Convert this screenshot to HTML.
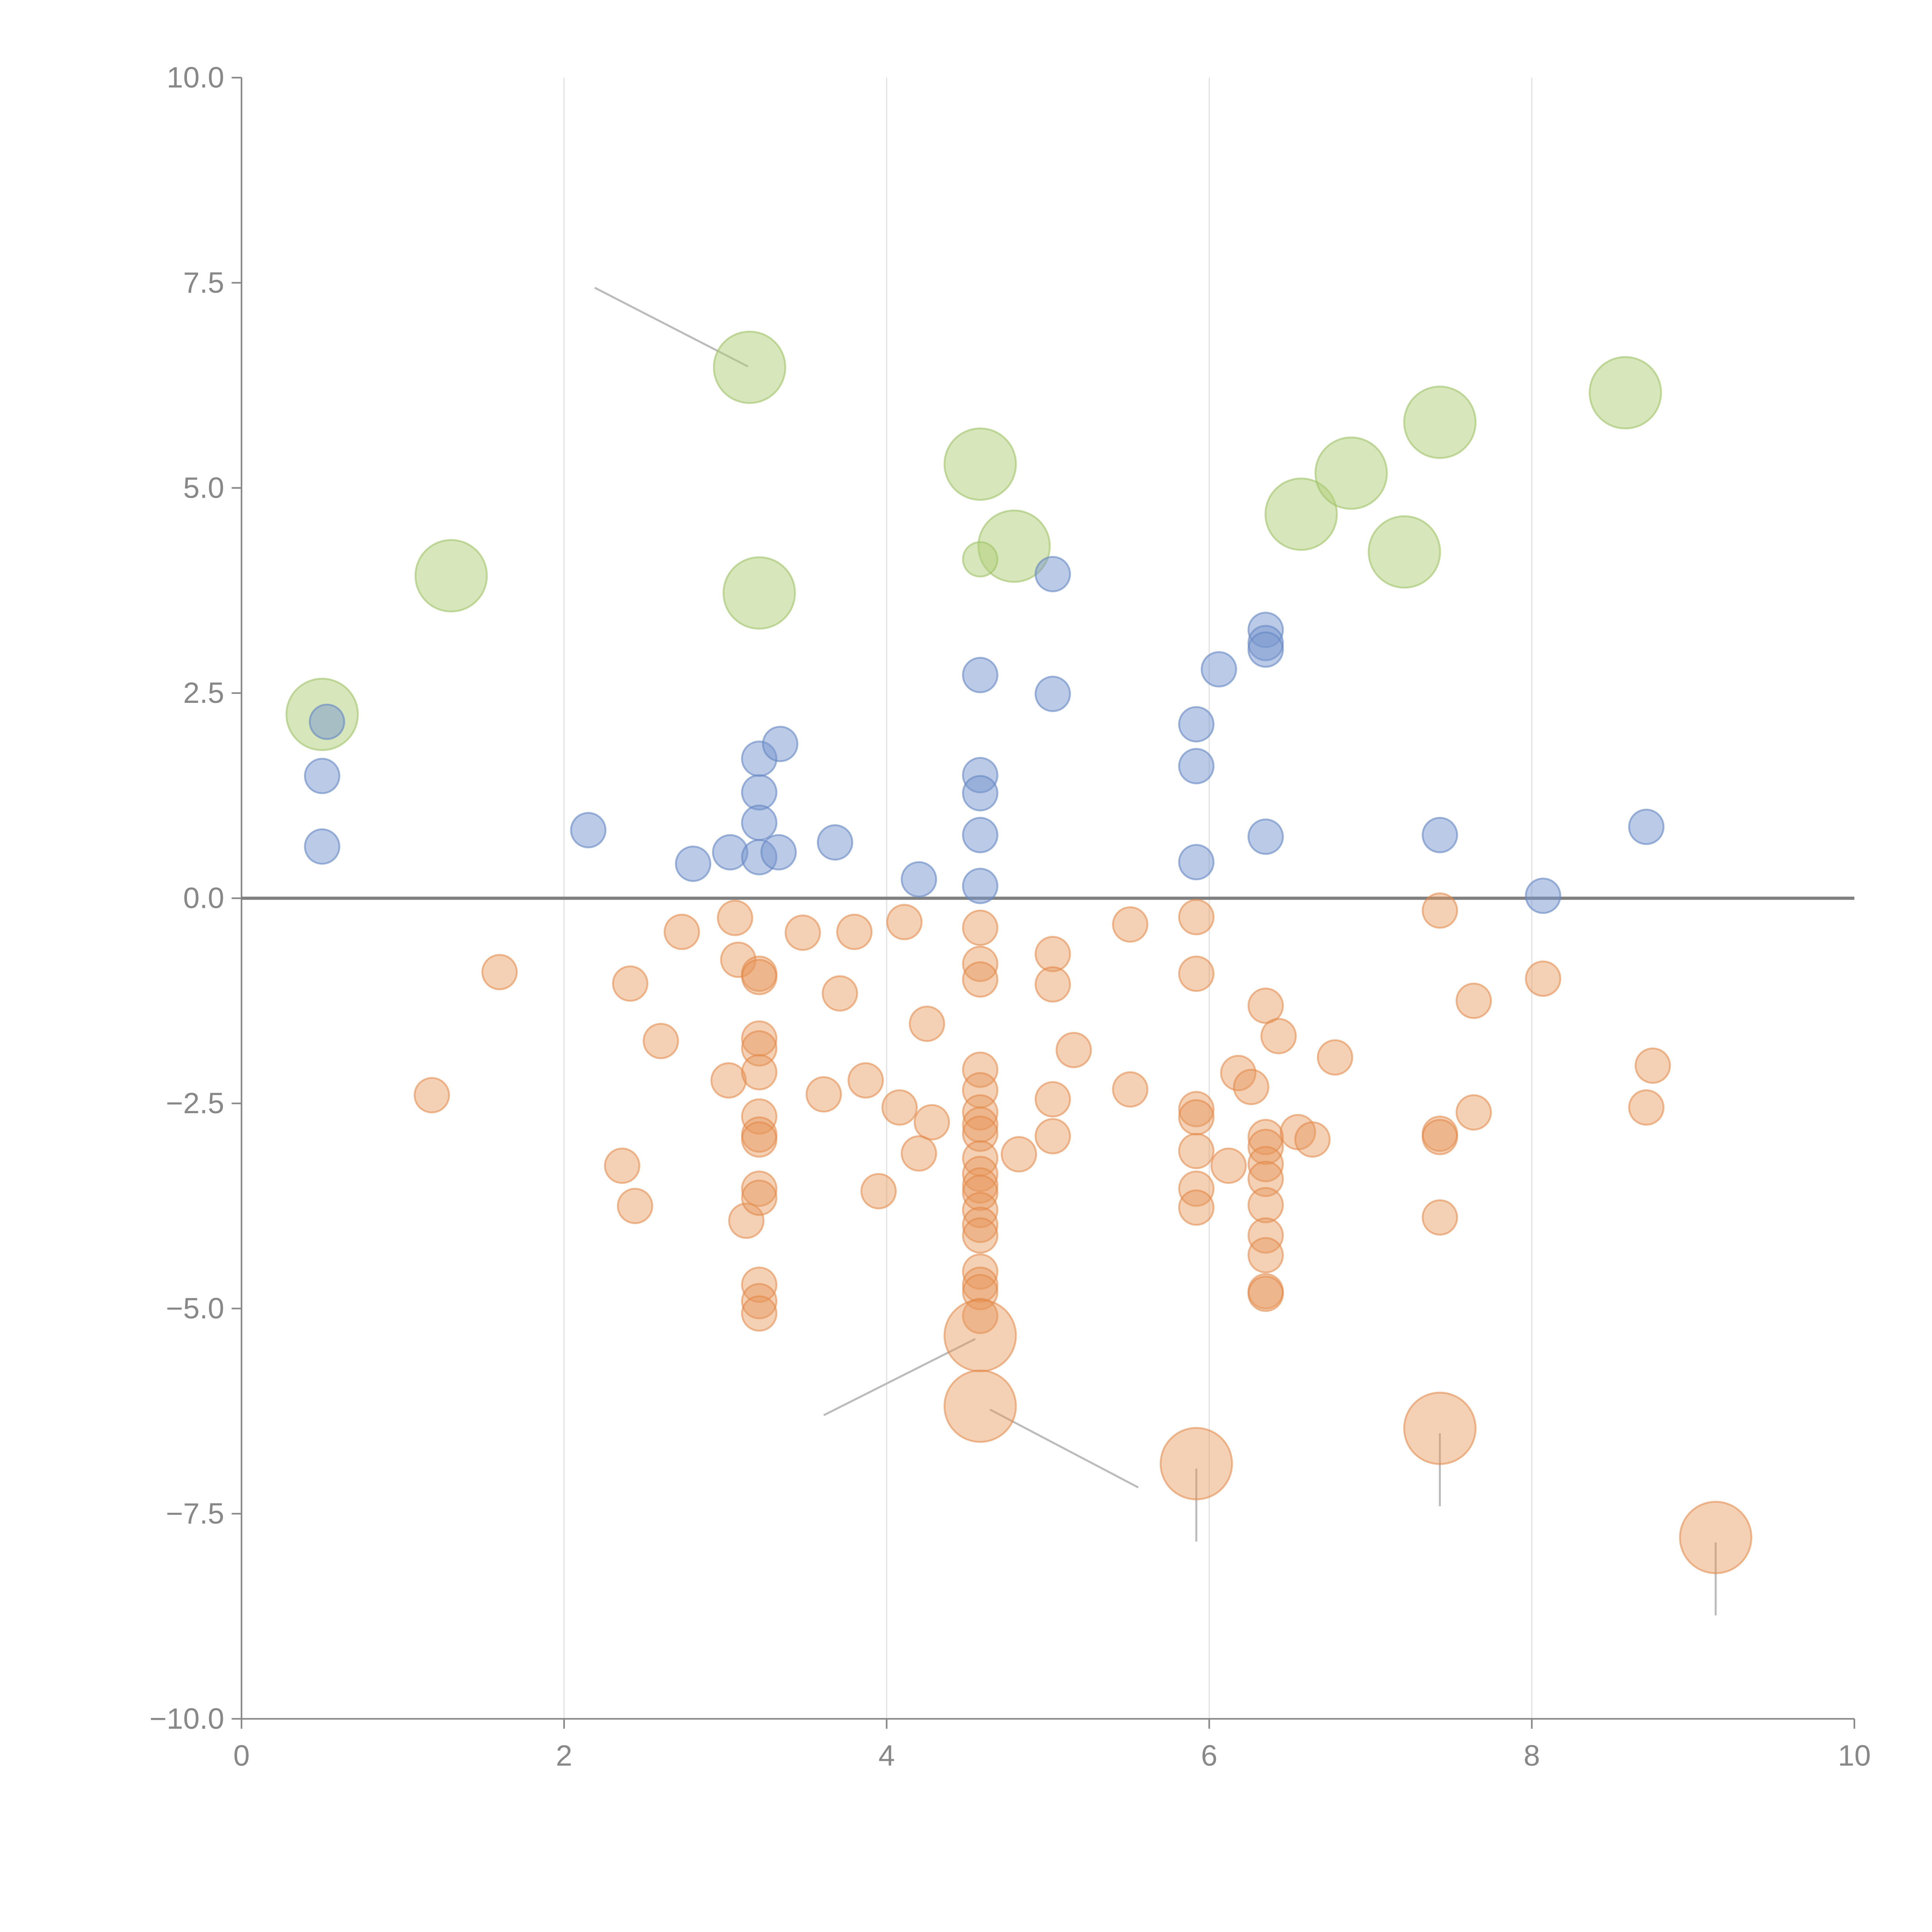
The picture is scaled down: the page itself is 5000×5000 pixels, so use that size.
<!DOCTYPE html>
<html><head><meta charset="utf-8"><title>Bubble scatter</title>
<style>
html,body{margin:0;padding:0;background:#fff;}
svg{display:block;}
text{font-family:"Liberation Sans",Arial,sans-serif;fill:#888;}
</style></head>
<body>
<svg id="chart" width="5000" height="5000" viewBox="0 0 1568 1568" xmlns="http://www.w3.org/2000/svg">
<g id="grid"></g>
<g id="axes"></g>
<g id="ann"></g>
<g id="marks"></g>
</svg>
<script>
const xTicks = [0, 2, 4, 6, 8, 10];
const yTicks = [10, 7.5, 5, 2.5, 0, -2.5, -5, -7.5, -10];
const yTickLabels = ["10.0", "7.5", "5.0", "2.5", "0.0", "\u22122.5", "\u22125.0", "\u22127.5", "\u221210.0"];

const greenBigX = [3.15, 1.30, 0.50, 3.21, 4.58, 4.79, 6.57, 6.88, 7.21, 7.43, 8.58];
const greenBigY = [6.47, 3.93, 2.24, 3.72, 5.29, 4.29, 4.68, 5.18, 4.22, 5.80, 6.16];
const greenSmallX = [4.58];
const greenSmallY = [4.13];

const blueX = [0.53,0.50,0.50,2.15,2.80,3.03,3.21,3.34,3.21,3.21,3.21,3.33,3.68,4.20,4.58,4.58,4.58,4.58,4.58,5.03,5.03,5.92,5.92,5.92,6.06,6.35,6.35,6.35,6.35,7.43,8.07,8.71];
const blueY = [2.15,1.49,0.63,0.83,0.42,0.56,1.70,1.88,1.29,0.92,0.50,0.56,0.68,0.23,2.72,1.50,1.28,0.77,0.15,3.95,2.49,2.12,1.61,0.44,2.79,3.27,3.11,3.03,0.75,0.77,0.03,0.87];

const orangeX = [1.18,1.60,2.41,2.36,2.44,2.60,2.73,3.02,3.06,3.08,3.13,3.21,3.21,3.21,3.21,3.21,3.21,3.21,3.21,3.21,3.21,3.21,3.21,3.21,3.48,3.61,3.71,3.80,3.87,3.95,4.08,4.11,4.20,4.25,4.28,4.58,4.58,4.58,4.58,4.58,4.58,4.58,4.58,4.58,4.58,4.58,4.58,4.58,4.58,4.58,4.58,4.58,4.58,4.58,4.82,5.03,5.03,5.03,5.03,5.16,5.51,5.51,5.92,5.92,5.92,5.92,5.92,5.92,5.92,6.12,6.18,6.26,6.35,6.35,6.35,6.35,6.35,6.35,6.35,6.35,6.35,6.35,6.43,6.55,6.64,6.78,7.43,7.43,7.43,7.43,7.64,7.64,8.07,8.71,8.75];
const orangeY = [-2.40,-0.90,-1.04,-3.26,-3.75,-1.74,-0.41,-2.22,-0.24,-0.75,-3.93,-0.92,-0.96,-1.71,-1.83,-2.12,-2.66,-2.88,-2.94,-3.54,-3.65,-4.71,-4.91,-5.06,-0.42,-2.39,-1.16,-0.41,-2.22,-3.57,-2.55,-0.29,-3.11,-1.53,-2.73,-0.36,-0.80,-0.99,-2.09,-2.34,-2.61,-2.76,-2.87,-3.17,-3.36,-3.50,-3.59,-3.80,-3.98,-4.11,-4.55,-4.71,-4.80,-5.09,-3.12,-0.68,-1.05,-2.45,-2.90,-1.85,-0.32,-2.33,-0.23,-0.92,-2.57,-2.67,-3.08,-3.54,-3.77,-3.26,-2.13,-2.30,-1.31,-2.91,-3.03,-3.24,-3.42,-3.74,-4.11,-4.35,-4.79,-4.82,-1.68,-2.85,-2.94,-1.94,-0.15,-2.87,-2.91,-3.89,-1.25,-2.61,-0.98,-2.55,-2.04];
const orangeBigX = [4.58, 4.58, 5.92, 7.43, 9.14];
const orangeBigY = [-5.33, -6.19, -6.89, -6.46, -7.79];

const annX1 = [2.19, 3.61, 4.64, 5.92, 7.43, 9.14];
const annY1 = [7.44, -6.30, -6.23, -6.95, -6.52, -7.85];
const annX2 = [3.14, 4.55, 5.56, 5.92, 7.43, 9.14];
const annY2 = [6.48, -5.37, -7.18, -7.84, -7.41, -8.74];

const NS = "http://www.w3.org/2000/svg";
const L = 196, R = 1505, T = 63, B = 1395;
function xs(v){ return L + (v - 0) / 10 * (R - L); }
function ys(v){ return B - (v + 10) / 20 * (B - T); }
function mk(tag, attrs, parent){
  const e = document.createElementNS(NS, tag);
  for (const k in attrs) e.setAttribute(k, attrs[k]);
  parent.appendChild(e);
  return e;
}
const grid = document.getElementById('grid');
const axes = document.getElementById('axes');
const ann = document.getElementById('ann');
const marks = document.getElementById('marks');

xTicks.forEach(function(t){
  if (t > 0 && t < 10) {
    const g = mk('line', {x1: xs(t), x2: xs(t), y1: T, y2: B, stroke: '#e3e3e3', 'stroke-width': 1}, grid);
    
    
  }
  const tk = mk('line', {x1: xs(t), x2: xs(t), y1: B, y2: B + 8, stroke: '#888', 'stroke-width': 1.3}, axes);
  
  
  const tx = mk('text', {x: xs(t), y: B + 38, 'text-anchor': 'middle', 'font-size': 24}, axes);
  tx.textContent = String(t);
  
  
});
yTicks.forEach(function(t, i){
  const tk = mk('line', {x1: L - 8, x2: L, y1: ys(t), y2: ys(t), stroke: '#888', 'stroke-width': 1.3}, axes);
  
  
  const tx = mk('text', {x: L - 14, y: ys(t) + 8, 'text-anchor': 'end', 'font-size': 24}, axes);
  tx.textContent = yTickLabels[i];
  
  
});
const ya = mk('line', {x1: L, x2: L, y1: T, y2: B, stroke: '#888', 'stroke-width': 1.3}, axes);


const xa = mk('line', {x1: L, x2: R, y1: B, y2: B, stroke: '#888', 'stroke-width': 1.3}, axes);


const zl = mk('line', {x1: L, x2: R, y1: ys(0), y2: ys(0), stroke: '#808080', 'stroke-width': 2.6}, axes);



annX1.forEach(function(v, i){
  const a = mk('line', {x1: xs(v), y1: ys(annY1[i]), x2: xs(annX2[i]), y2: ys(annY2[i]), stroke: '#bbb', 'stroke-width': 1.6}, ann);
  
  
});

function drawSeries(X, Y, r, fill, stroke, name){
  X.forEach(function(v, i){
    const c = mk('circle', {cx: xs(v), cy: ys(Y[i]), r: r, fill: fill, stroke: stroke, 'stroke-width': 1.5}, marks);
    
    
  });
}
drawSeries(orangeX, orangeY, 14, 'rgba(230,150,90,0.45)', 'rgba(225,135,70,0.55)', 'orange-point');
drawSeries(orangeBigX, orangeBigY, 29, 'rgba(230,150,90,0.45)', 'rgba(225,135,70,0.55)', 'orange-large-point');
drawSeries(greenBigX, greenBigY, 29, 'rgba(175,205,120,0.5)', 'rgba(160,195,105,0.6)', 'green-large-point');
drawSeries(greenSmallX, greenSmallY, 14, 'rgba(175,205,120,0.5)', 'rgba(160,195,105,0.6)', 'green-point');
drawSeries(blueX, blueY, 14, 'rgba(120,150,205,0.5)', 'rgba(100,135,195,0.6)', 'blue-point');
</script>
</body></html>
